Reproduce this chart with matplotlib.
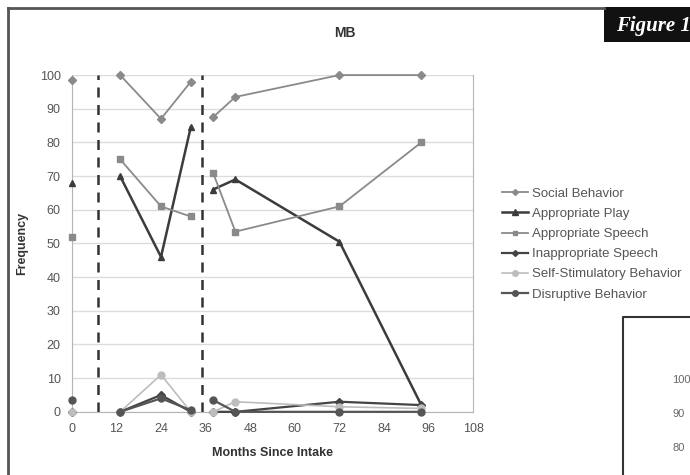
import matplotlib.pyplot as plt
from matplotlib.lines import Line2D
from matplotlib.patches import Rectangle

plt.rcParams['font.family'] = ['Liberation Sans', 'DejaVu Sans']

# months since intake, split by treatment phase
phase_x = [[0], [13, 24, 32], [38, 44, 72, 94]]

series_names = ["Social Behavior", "Appropriate Play", "Appropriate Speech",
                "Inappropriate Speech", "Self-Stimulatory Behavior", "Disruptive Behavior"]
social = [[98.5], [100, 87, 98], [87.5, 93.5, 100, 100]]
play = [[68], [70, 46, 84.5], [66, 69, 50.5, 2]]
approp_speech = [[52], [75, 61, 58], [71, 53.5, 61, 80]]
inapprop_speech = [[0], [0, 5, 0], [0, 0, 3, 2]]
self_stim = [[0], [0, 11, 0], [0, 3, 1.5, 1]]
disruptive = [[3.5], [0, 4, 0.5], [3.5, 0, 0, 0]]
phase_lines = [7, 35]

all_series = [social, play, approp_speech, inapprop_speech, self_stim, disruptive]
colors = ['#8a8a8a', '#3c3c3c', '#8a8a8a', '#444444', '#bdbdbd', '#555555']
markers = ['D', '^', 's', 'D', 'o', 'o']
msizes = [4, 5, 4, 4, 5, 5]
lwidths = [1.3, 1.8, 1.3, 1.6, 1.2, 1.6]

fig = plt.figure(figsize=(6.9, 4.75), dpi=100)
ax = fig.add_axes([0.104, 0.133, 0.582, 0.709])

for vals, c, m, ms, lw in zip(all_series, colors, markers, msizes, lwidths):
    for xs, ys in zip(phase_x, vals):
        ax.plot(xs, ys, color=c, marker=m, markersize=ms, lw=lw, clip_on=False, zorder=3)

for xv in phase_lines:
    ax.axvline(xv, color='#333333', ls=(0, (4, 3)), lw=1.8, zorder=2)

ax.set_xlim(0, 108)
ax.set_ylim(0, 100)
ax.set_xticks(range(0, 109, 12))
ax.set_yticks(range(0, 101, 10))
ax.yaxis.grid(True, color='#dcdcdc', lw=1)
ax.set_axisbelow(True)
for s in ['left', 'right', 'bottom']:
    ax.spines[s].set_color('#b5b5b5')
ax.spines['top'].set_visible(False)
ax.tick_params(length=0, labelsize=9, labelcolor='#555555', pad=8)
ax.set_xlabel("Months Since Intake", fontsize=9, fontweight='bold', color='#333333', labelpad=9)
ax.set_ylabel("Frequency", fontsize=9, fontweight='bold', color='#333333', labelpad=8)
fig.text(0.5, 0.93, "MB", ha='center', va='center', fontsize=10, fontweight='bold', color='#333333')

handles = [Line2D([], [], color=c, marker=m, markersize=ms - 1, lw=lw)
           for c, m, ms, lw in zip(colors, markers, msizes, lwidths)]
fig.legend(handles, series_names, loc='upper left', bbox_to_anchor=(0.71, 0.63),
           frameon=False, fontsize=9.5, handlelength=2.0, handletextpad=0.3,
           labelspacing=0.6, labelcolor='#555555')

# page decorations from the scan
fig.add_artist(Line2D([0.012, 0.876], [0.983, 0.983], color='#555555', lw=2))
fig.add_artist(Line2D([0.012, 0.012], [0.0, 0.983], color='#555555', lw=2))
fig.add_artist(Rectangle((0.875, 0.912), 0.13, 0.073, facecolor='#111111', edgecolor='none'))
fig.text(0.893, 0.946, "Figure 1", color='white', fontsize=15, fontstyle='italic',
         fontweight='bold', family='Liberation Serif', va='center', ha='left')
fig.add_artist(Line2D([0.903, 0.903, 1.0], [0.0, 0.333, 0.333], color='#333333', lw=1.5))
for lab, yy in zip(["100", "90", "80"], [0.2, 0.128, 0.057]):
    fig.text(0.974, yy, lab, fontsize=8, color='#666666', ha='left', va='center')

fig.savefig("out.png", dpi=100)
